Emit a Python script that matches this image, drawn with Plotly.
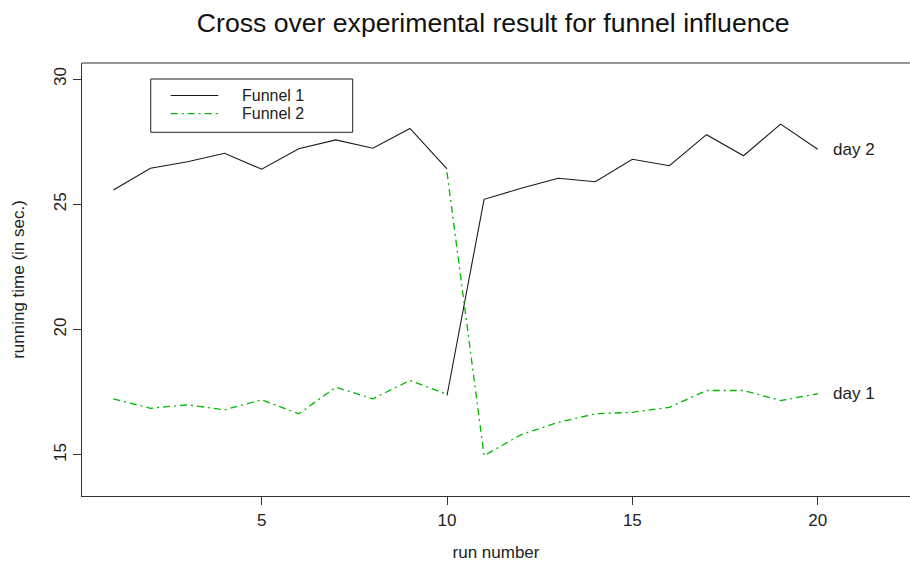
import plotly.graph_objects as go

# Run numbers for the two halves of the cross-over design
runs_first = [1, 2, 3, 4, 5, 6, 7, 8, 9, 10]
runs_second = [10, 11, 12, 13, 14, 15, 16, 17, 18, 19, 20]

# Running times (seconds)
funnel1_first = [25.57, 26.44, 26.70, 27.04, 26.40, 27.22, 27.57, 27.24, 28.03, 26.41]
funnel1_second = [17.37, 25.20, 25.64, 26.04, 25.90, 26.80, 26.54, 27.78, 26.94, 28.20, 27.20]
funnel2_first = [17.24, 16.86, 17.00, 16.80, 17.20, 16.64, 17.70, 17.24, 17.97, 17.42]
funnel2_second = [26.28, 14.97, 15.81, 16.30, 16.64, 16.70, 16.90, 17.57, 17.57, 17.17, 17.44]

series_names = ["Funnel 1", "Funnel 2"]
day_labels = ["day 2", "day 1"]
x_ticks = [5, 10, 15, 20]
y_ticks = [15, 20, 25, 30]

FONT = "Liberation Sans, Arial, sans-serif"
BLACK = "#1a1a1a"
GREEN = "#00b800"
GREEN_DASH = "7px,4px,2px,4px"

fig = go.Figure()

# Each funnel is one trace, with a break before the second half
fig.add_trace(go.Scatter(
    x=runs_first + [None] + runs_second,
    y=funnel1_first + [None] + funnel1_second,
    mode="lines", name=series_names[0], showlegend=False,
    line=dict(color=BLACK, width=1.1),
))
fig.add_trace(go.Scatter(
    x=runs_first + [None] + runs_second,
    y=funnel2_first + [None] + funnel2_second,
    mode="lines", name=series_names[1], showlegend=False,
    line=dict(color=GREEN, width=1.3, dash=GREEN_DASH),
))

# End-of-line labels
for yv, txt in [(funnel1_second[-1], day_labels[0]), (funnel2_second[-1], day_labels[1])]:
    fig.add_annotation(x=runs_second[-1], y=yv, xref="x", yref="y", text=txt,
                       showarrow=False, xanchor="left", yanchor="middle", xshift=13,
                       font=dict(family=FONT, size=17, color="#222"))

# Legend box
L = dict(x0=0.0830, x1=0.3269, y0=0.8400, y1=0.9630)
fig.add_shape(type="rect", xref="paper", yref="paper", x0=L["x0"], x1=L["x1"],
              y0=L["y0"], y1=L["y1"], line=dict(color="#222", width=1),
              fillcolor="white")
rows = [0.9250, 0.8830]
styles = [dict(color=BLACK, width=1.1), dict(color=GREEN, width=1.3, dash=GREEN_DASH)]
for ry, st, nm in zip(rows, styles, series_names):
    fig.add_shape(type="line", xref="paper", yref="paper", x0=0.1071, x1=0.1646,
                  y0=ry, y1=ry, line=st)
    fig.add_annotation(x=0.1908, y=ry, xref="paper", yref="paper", text=nm,
                       showarrow=False, xanchor="left", yanchor="middle",
                       font=dict(family=FONT, size=16, color="#222"))

# Top edge of the plot frame
fig.add_shape(type="line", xref="paper", yref="paper", x0=0, x1=1, y0=1, y1=1,
              line=dict(color="#333", width=1.2))

fig.update_layout(
    width=910, height=562,
    margin=dict(l=82, r=0, t=63, b=66),
    paper_bgcolor="white", plot_bgcolor="white",
    font=dict(family=FONT, size=17, color="#222"),
    title=dict(text="Cross over experimental result for funnel influence",
               x=0.542, xref="container", xanchor="center",
               y=1 - 23 / 562, yref="container", yanchor="middle",
               font=dict(family=FONT, size=26.6, color="#111")),
    xaxis=dict(range=[0.153, 22.49], tickvals=x_ticks, ticks="outside", ticklen=8,
               tickcolor="#333", tickwidth=1, showgrid=False, zeroline=False,
               showline=True, linecolor="#333", linewidth=1.2,
               tickfont=dict(size=17, color="#222"),
               title=dict(text="run number", standoff=18,
                          font=dict(size=17, color="#222"))),
    yaxis=dict(range=[13.36, 30.64], tickvals=y_ticks, ticks="outside", ticklen=8,
               tickcolor="#333", tickwidth=1, showgrid=False, zeroline=False,
               showline=True, linecolor="#333", linewidth=1.2, tickangle=-90,
               tickfont=dict(size=17, color="#222"),
               title=dict(text="running time (in sec.)", standoff=22,
                          font=dict(size=17, color="#222"))),
)

fig.write_html("out.html")
